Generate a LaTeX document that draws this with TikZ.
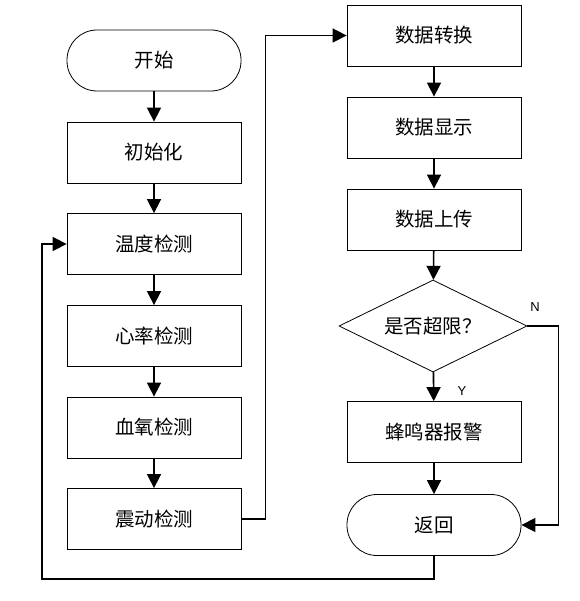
\documentclass[tikz,border=0pt]{standalone}
\usepackage{fontspec}
\setmainfont{Noto Sans CJK SC}
\newfontfamily\latinfont{Liberation Sans}
\usetikzlibrary{arrows.meta,shapes.geometric}
\begin{document}
\begin{tikzpicture}[x=1pt,y=-1pt,
  box/.style={draw, line width=0.8pt, minimum width=174pt, minimum height=61pt, inner sep=0pt, font=\fontsize{19.5}{19.5}\selectfont},
  term/.style={box, rounded corners=30pt},
  decide/.style={draw, line width=0.8pt, diamond, minimum width=188pt, minimum height=92pt, inner sep=0pt, font=\fontsize{19.5}{19.5}\selectfont},
  conn/.style={line width=1.6pt, -{Triangle[length=14pt,width=14pt]}},
  lab/.style={font=\latinfont\fontsize{13}{13}\selectfont}
]
\useasboundingbox (0,0) rectangle (579,601);
\fill[white] (0,0) rectangle (579,601);
% left column
\node[term] (start) at (154,60.5) {开始};
\node[box] (init) at (154,152.5) {初始化};
\node[box] (temp) at (154,244) {温度检测};
\node[box] (heart) at (154,336) {心率检测};
\node[box] (spo) at (154,427.5) {血氧检测};
\node[box] (vib) at (154,519) {震动检测};
% right column
\node[box] (conv) at (434,35.5) {数据转换};
\node[box] (disp) at (434,127.5) {数据显示};
\node[box] (up) at (434,219.5) {数据上传};
\node[decide] (dec) at (433,326) {\makebox[0pt]{是否超限？}};
\node[box] (buzz) at (434,432) {蜂鸣器报警};
\node[term] (ret) at (434,525) {返回};
% labels
\node[lab] (nlab) at (535,307) {N};
\node[lab] (ylab) at (462,391) {Y};
% connectors
\draw[conn] (start) -- (init);
\draw[conn] (init) -- (temp);
\draw[conn] (temp) -- (heart);
\draw[conn] (heart) -- (spo);
\draw[conn] (spo) -- (vib);
\draw[conn] (vib.east) -- ++(24,0) |- (conv.west);
\draw[conn] (conv) -- (disp);
\draw[conn] (disp) -- (up);
\draw[conn] (up) -- (dec);
\draw[conn] (dec) -- (buzz);
\draw[conn] (buzz) -- (ret);
\draw[conn] (dec.east) -- ++(31,0) |- (ret.east);
\coordinate (lb) at (42,579);
\draw[conn] (ret.south) |- (lb) |- (temp.west);
\end{tikzpicture}
\end{document}
